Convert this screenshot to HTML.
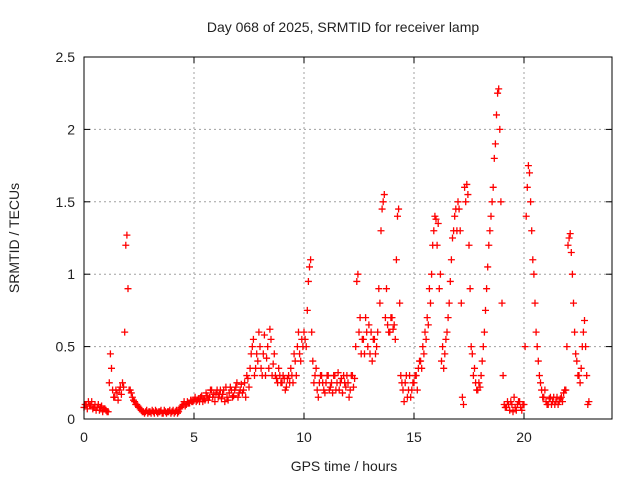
<!DOCTYPE html>
<html><head><meta charset="utf-8"><style>
body{margin:0;background:#fff;font-family:"Liberation Sans",sans-serif}
svg text{font-family:"Liberation Sans",sans-serif;font-size:14px;fill:#222}
</style></head><body>
<svg id="chart" width="640" height="480" xmlns="http://www.w3.org/2000/svg">
<rect width="640" height="480" fill="#fff"/>
<g id="grid"></g>
<g id="pts"></g>
<rect x="84" y="57" width="528" height="362" fill="none" stroke="#000" stroke-width="1"/>
<g id="ticks"></g>
<text x="343" y="32" text-anchor="middle">Day 068 of 2025, SRMTID for receiver lamp</text>
<text x="344" y="471" text-anchor="middle">GPS time / hours</text>
<text transform="translate(19,238) rotate(-90)" text-anchor="middle">SRMTID / TECUs</text>
</svg>
<script>
const xTicks=[0,5,10,15,20];
const yTicks=[0,0.5,1,1.5,2,2.5];
const yTickLabels=["0","0.5","1","1.5","2","2.5"];
const tStep=0.1;
const srmtid=[
0.08,0.1,0.12,0.09,0.07,0.1,0.08,0.06,0.09,0.07,
0.06,0.05,0.45,0.2,0.15,0.18,0.2,0.17,0.22,1.2,
0.9,0.2,0.15,0.12,0.1,0.08,0.06,0.05,0.05,0.04,
0.05,0.06,0.04,0.05,0.05,0.06,0.04,0.05,0.05,0.06,
0.05,0.04,0.06,0.05,0.08,0.1,0.09,0.12,0.11,0.12,
0.13,0.12,0.14,0.15,0.12,0.13,0.16,0.15,0.2,0.17,
0.18,0.15,0.2,0.17,0.12,0.15,0.18,0.2,0.16,0.22,
0.15,0.2,0.18,0.25,0.3,0.22,0.45,0.55,0.35,0.4,
0.5,0.3,0.58,0.42,0.35,0.55,0.38,0.3,0.25,0.3,
0.25,0.28,0.22,0.3,0.35,0.25,0.4,0.5,0.45,0.55,
0.6,0.5,0.95,1.1,0.4,0.3,0.2,0.25,0.3,0.2,
0.25,0.3,0.22,0.18,0.3,0.25,0.2,0.28,0.3,0.22,
0.25,0.2,0.3,0.28,0.95,0.6,0.45,0.55,0.7,0.5,
0.45,0.4,0.55,0.5,0.9,1.3,1.5,0.7,0.65,0.6,
0.7,0.65,1.1,1.45,0.3,0.2,0.25,0.15,0.3,0.2,
0.25,0.3,0.35,0.4,0.5,0.6,0.7,0.9,1.0,1.3,
1.38,1.35,1.0,0.5,0.45,0.6,0.8,1.1,1.3,1.45,
1.5,1.3,0.15,1.6,1.62,1.2,0.5,0.3,0.25,0.2,
0.22,0.4,0.6,0.9,1.2,1.4,1.6,1.9,2.25,2.0,
0.8,0.1,0.08,0.1,0.12,0.05,0.08,0.1,0.12,0.06,
0.1,1.4,1.75,1.5,1.1,0.8,0.5,0.3,0.2,0.15,
0.12,0.1,0.15,0.12,0.1,0.15,0.12,0.15,0.18,0.2,
1.2,1.28,1.0,0.6,0.4,0.3,0.35,0.6,0.5,0.1
];
const srmtidHalf=[
0.1,0.07,0.09,0.12,0.08,0.06,0.1,0.08,0.05,0.07,
0.05,0.25,0.35,0.15,0.2,0.13,0.22,0.25,0.6,1.27,
0.2,0.18,0.13,0.1,0.09,0.07,0.05,0.04,0.06,0.05,
0.04,0.05,0.06,0.04,0.05,0.04,0.06,0.04,0.05,0.04,
0.06,0.05,0.04,0.07,0.09,0.12,0.1,0.11,0.13,0.12,
0.15,0.13,0.12,0.16,0.14,0.18,0.13,0.2,0.15,0.12,
0.2,0.17,0.14,0.2,0.22,0.13,0.22,0.15,0.2,0.25,
0.18,0.24,0.2,0.15,0.28,0.35,0.5,0.3,0.45,0.6,
0.35,0.45,0.3,0.5,0.62,0.3,0.45,0.28,0.35,0.25,
0.3,0.2,0.28,0.25,0.3,0.45,0.3,0.6,0.4,0.5,
0.55,0.75,1.05,0.6,0.25,0.35,0.15,0.3,0.25,0.18,
0.3,0.2,0.25,0.3,0.2,0.32,0.25,0.18,0.25,0.3,
0.15,0.3,0.22,0.5,1.0,0.7,0.55,0.45,0.6,0.65,
0.6,0.55,0.45,0.6,0.8,1.45,1.55,0.9,0.6,0.7,
0.62,0.55,1.4,0.8,0.25,0.12,0.3,0.2,0.15,0.25,
0.3,0.2,0.4,0.35,0.45,0.55,0.65,0.8,1.2,1.4,
1.2,0.9,0.4,0.35,0.55,0.7,0.95,1.25,1.4,1.3,
1.45,0.8,0.1,1.5,1.55,0.9,0.45,0.35,0.2,0.25,
0.3,0.5,0.75,1.05,1.3,1.5,1.8,2.1,2.28,1.5,
0.3,0.08,0.12,0.06,0.1,0.15,0.06,0.12,0.08,0.1,
0.5,1.6,1.7,1.3,1.0,0.6,0.4,0.25,0.15,0.2,
0.1,0.14,0.1,0.15,0.12,0.1,0.14,0.12,0.2,0.5,
1.25,1.15,0.8,0.45,0.3,0.25,0.5,0.68,0.3,0.12
];
const X0=84,X1=612,Y0=419,Y1=57,XMAX=24,YMAX=2.5;
function xs(v){return X0+(X1-X0)*v/XMAX;}
function ys(v){return Y0-(Y0-Y1)*v/YMAX;}
const NS="http://www.w3.org/2000/svg";
function mk(tag,attrs,parent){const e=document.createElementNS(NS,tag);for(const k in attrs)e.setAttribute(k,attrs[k]);parent.appendChild(e);return e;}
const grid=document.getElementById('grid'),ticks=document.getElementById('ticks'),pts=document.getElementById('pts');
xTicks.forEach((t,i)=>{
 const x=xs(t);
 if(t>0){const g=mk('line',{x1:x,x2:x,y1:Y0,y2:Y1,stroke:'#a0a0a0','stroke-dasharray':'2,3'},grid);
 
 }
 mk('line',{x1:x,x2:x,y1:Y0,y2:Y0-6,stroke:'#000'},ticks);
 mk('line',{x1:x,x2:x,y1:Y1,y2:Y1+6,stroke:'#000'},ticks);
 const tx=mk('text',{x:x,y:Y0+23,'text-anchor':'middle'},ticks);tx.textContent=String(t);
 
 
});
yTicks.forEach((t,i)=>{
 const y=ys(t);
 if(t>0&&t<YMAX){const g=mk('line',{x1:X0,x2:X1,y1:y,y2:y,stroke:'#a0a0a0','stroke-dasharray':'2,3'},grid);
 
 }
 mk('line',{x1:X0,x2:X0+6,y1:y,y2:y,stroke:'#000'},ticks);
 mk('line',{x1:X1,x2:X1-6,y1:y,y2:y,stroke:'#000'},ticks);
 const tx=mk('text',{x:X0-9,y:y+5,'text-anchor':'end'},ticks);tx.textContent=yTickLabels[i];
 
 
});
function plus(t,v){
 const x=xs(t),y=ys(v);
 const p=mk('path',{d:`M${x-3.5},${y}H${x+3.5}M${x},${y-3.5}V${y+3.5}`,stroke:'#f00','stroke-width':1.3,fill:'none'},pts);
 
 
}
srmtid.forEach((v,i)=>plus(i*tStep,v));
srmtidHalf.forEach((v,i)=>plus(i*tStep+tStep/2,v));
</script>
</body></html>
